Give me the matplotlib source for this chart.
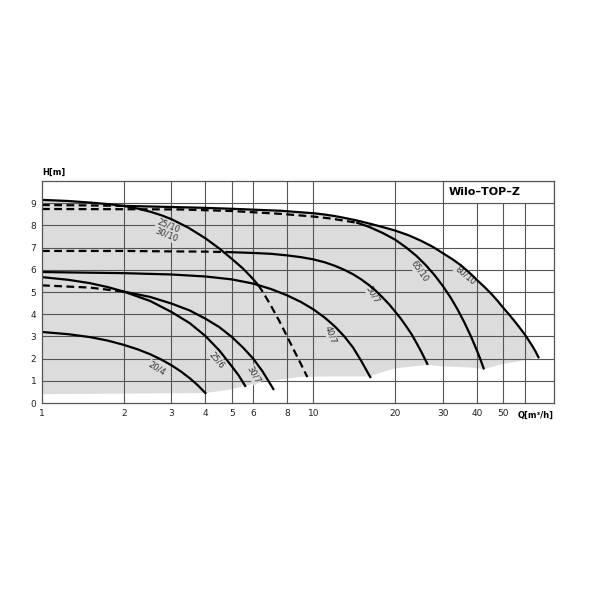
import matplotlib as mpl
mpl.use('Agg')
import matplotlib.pyplot as plt
from matplotlib.patches import Rectangle

plt.rcParams['font.family'] = ['DejaVu Sans']

# axis grid and ticks
q_grid = [2, 3, 4, 5, 6, 8, 10, 20, 30, 40, 50, 60]
q_ticks = [1, 2, 3, 4, 5, 6, 8, 10, 20, 30, 40, 50]
h_ticks = [0, 1, 2, 3, 4, 5, 6, 7, 8, 9]

# 25/10 - 30/10 (solid, then dashed)
q_a = [1, 1.25, 1.5, 1.75, 2, 2.25, 2.5, 2.75, 3, 3.46, 4, 4.5, 5, 5.5, 6, 6.27]
h_a = [9.15, 9.1, 9.03, 8.96, 8.88, 8.76, 8.62, 8.46, 8.28, 7.9, 7.42, 6.96, 6.5, 6.06, 5.58, 5.3]
q_a_dash = [6.27, 6.5, 7, 7.5, 8, 8.5, 9, 9.5]
h_a_dash = [5.3, 5.02, 4.35, 3.68, 3.0, 2.35, 1.75, 1.17]

# 80/10
q_80_dash = [1, 1.5, 2]
h_80_dash = [8.92, 8.9, 8.88]
q_80 = [2, 3, 4, 5, 6, 7.6, 9, 10, 11, 12, 13, 14.5, 16, 17.7, 20, 22.5, 25, 27.5,
        30, 32.5, 35, 37.5, 40, 42.5, 45, 47.5, 50, 52.5, 55, 57.5, 60, 62, 64, 66, 67.5]
h_80 = [8.88, 8.83, 8.79, 8.75, 8.71, 8.66, 8.59, 8.55, 8.49, 8.42, 8.34, 8.22, 8.09, 7.95,
        7.77, 7.55, 7.3, 7.04, 6.75, 6.48, 6.2, 5.88, 5.55, 5.25, 4.95, 4.63, 4.3, 4.0,
        3.7, 3.4, 3.1, 2.84, 2.58, 2.3, 2.06]

# 65/10
q_65_dash = [1, 2, 3.2, 5, 7.6, 10, 11.6, 14.5]
h_65_dash = [8.74, 8.73, 8.72, 8.65, 8.52, 8.4, 8.31, 8.12]
q_65 = [14.5, 16, 18, 20, 22, 24, 26, 28, 30, 32, 34, 36, 38, 40, 41.2, 42.4]
h_65 = [8.12, 7.94, 7.66, 7.36, 7.0, 6.62, 6.2, 5.75, 5.27, 4.76, 4.21, 3.63, 3.02,
        2.38, 1.98, 1.56]

# 50/7
q_50_dash = [1, 2, 3, 4, 4.82]
h_50_dash = [6.85, 6.85, 6.83, 6.82, 6.8]
q_50 = [4.82, 6, 7, 8, 9, 10, 11, 12, 13, 14, 15, 16, 17, 18, 19, 20, 21, 22, 23,
        24, 25, 26.3]
h_50 = [6.8, 6.76, 6.72, 6.65, 6.57, 6.47, 6.34, 6.18, 6.0, 5.8, 5.57, 5.32, 5.05,
        4.75, 4.45, 4.12, 3.8, 3.45, 3.1, 2.7, 2.3, 1.76]

# 40/7
q_40 = [1, 2, 3, 4, 5, 6, 7, 8, 9, 10, 11, 12, 13, 14, 15, 16.2]
h_40 = [5.9, 5.85, 5.79, 5.7, 5.57, 5.38, 5.13, 4.85, 4.55, 4.22, 3.85, 3.45, 3.0,
        2.5, 1.9, 1.17]

# 30/7
q_30_dash = [1, 1.5, 2]
h_30_dash = [5.3, 5.2, 5.02]
q_30 = [2, 2.5, 3, 3.5, 4, 4.5, 5, 5.5, 6, 6.5, 7.12]
h_30 = [5.02, 4.78, 4.48, 4.17, 3.8, 3.42, 2.98, 2.5, 2.0, 1.42, 0.63]

# 25/6
q_25 = [1, 1.25, 1.5, 1.75, 2, 2.5, 3, 3.5, 4, 4.5, 5, 5.3, 5.61]
h_25 = [5.67, 5.55, 5.4, 5.22, 5.02, 4.6, 4.1, 3.6, 3.02, 2.37, 1.66, 1.25, 0.77]

# 20/4
q_20 = [1, 1.25, 1.5, 1.75, 2, 2.25, 2.5, 2.75, 3, 3.25, 3.5, 3.75, 4]
h_20 = [3.2, 3.1, 2.97, 2.81, 2.62, 2.42, 2.2, 1.96, 1.7, 1.42, 1.12, 0.8, 0.45]

# lower border of the grey working range (right to left)
q_low = [67.5, 60, 50, 42.4, 38, 30, 26.3, 20, 17.5, 16.2, 12, 9, 8, 6.5, 5.7, 4.9, 4.0, 1]
h_low = [2.06, 1.93, 1.76, 1.53, 1.6, 1.65, 1.72, 1.56, 1.35, 1.2, 1.2, 1.18, 1.1, 0.96,
         0.8, 0.6, 0.45, 0.4]

# curve labels: text, Q, H, angle
lab_text = ['25/10', '30/10', '65/10', '80/10', '50/7', '40/7', '30/7', '25/6', '20/4']
lab_q = [2.92, 2.87, 24.6, 36.4, 16.5, 11.6, 6.0, 4.42, 2.65]
lab_h = [8.0, 7.57, 5.92, 5.77, 4.9, 3.06, 1.29, 1.94, 1.56]
lab_rot = [-22, -22, -55, -40, -60, -70, -60, -50, -32]

fill_col = '#dcdcdc'
grid_col = '#555555'

fig = plt.figure(figsize=(6, 6), dpi=100)
ax = fig.add_axes([0.07, 0.3283, 0.8533, 0.37])
ax.set_xscale('log')
ax.set_xlim(1, 77)
ax.set_ylim(0, 10)

# grey area: top = 25/10 up to Q=2, then 80/10, bottom = lower border
top_q = q_a[:4] + q_80
top_h = h_a[:4] + h_80
ax.fill(top_q + q_low, top_h + h_low, color=fill_col, lw=0, zorder=1)

for q in q_grid:
    ax.axvline(q, color=grid_col, lw=0.8, zorder=2)
for h in h_ticks[1:]:
    ax.axhline(h, color=grid_col, lw=0.8, zorder=2)

# title box
ax.add_patch(Rectangle((30, 9), 77 - 30, 1, facecolor='white', edgecolor=grid_col,
                       lw=0.8, zorder=3))
ax.text(31.5, 9.5, 'Wilo–TOP–Z', fontsize=8, fontweight='bold', va='center',
        ha='left', zorder=4)

solid = dict(color='black', lw=1.6, zorder=6, solid_joinstyle='round')
dash = dict(color='black', lw=1.6, zorder=6, ls=(0, (3.5, 2)))

ax.plot(q_a, h_a, **solid)
ax.plot(q_a_dash, h_a_dash, **dash)
ax.plot(q_80_dash, h_80_dash, **dash)
ax.plot(q_80, h_80, **solid)
ax.plot(q_65_dash, h_65_dash, **dash)
ax.plot(q_65, h_65, **solid)
ax.plot(q_50_dash, h_50_dash, **dash)
ax.plot(q_50, h_50, **solid)
ax.plot(q_40, h_40, **solid)
ax.plot(q_30_dash, h_30_dash, **dash)
ax.plot(q_30, h_30, **solid)
ax.plot(q_25, h_25, **solid)
ax.plot(q_20, h_20, **solid)

for t, q, h, r in zip(lab_text, lab_q, lab_h, lab_rot):
    ax.text(q, h, t, fontsize=6, rotation=r, ha='center', va='center', color='#333333',
            rotation_mode='anchor', zorder=5,
            bbox=dict(facecolor=fill_col, edgecolor='none', pad=0.5))

ax.set_xticks(q_ticks)
ax.set_xticklabels([str(q) for q in q_ticks])
ax.xaxis.set_minor_locator(mpl.ticker.NullLocator())
ax.set_yticks(h_ticks)
ax.tick_params(length=0, labelsize=6.5, pad=4, colors='#222222')
for s in ax.spines.values():
    s.set_color(grid_col)
    s.set_linewidth(0.9)
    s.set_zorder(7)

fig.text(0.07, 0.713, 'H[m]', fontsize=6, fontweight='bold', ha='left', va='center')
ax.text(1.0, -0.035, 'Q[m³/h]', transform=ax.transAxes, fontsize=6, fontweight='bold',
        ha='right', va='top')

fig.savefig('out.png', dpi=100, facecolor='white')
